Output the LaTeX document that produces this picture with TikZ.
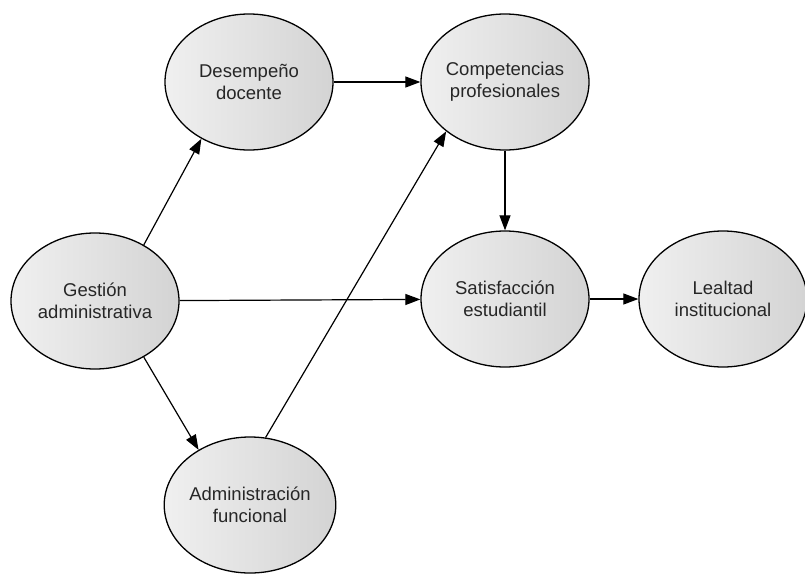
\documentclass[tikz,border=0pt]{standalone}
\usepackage{fontspec}
\setmainfont{Liberation Sans}
\usetikzlibrary{shapes.geometric,arrows.meta}

\begin{document}
\begin{tikzpicture}[x=1pt, y=-1pt,
    construct/.style={ellipse, draw=black, line width=1.3pt,
        left color=black!6, right color=black!17,
        minimum width=168pt, minimum height=136pt, inner sep=0pt,
        align=center, text=black!85,
        font=\fontsize{18.5pt}{22pt}\selectfont},
    path/.style={line width=1.2pt, -{Triangle[length=15pt, width=11pt]}}]
    \useasboundingbox (0,0) rectangle (805,573);

    \node[construct] (gestion) at (95,301) {Gestión\\administrativa};
    \node[construct] (desempeno) at (249,82) {Desempeño\\docente};
    \node[construct] (competencias) at (505,82) {Competencias\\profesionales};
    \node[construct] (satisfaccion) at (505,299) {Satisfacción\\estudiantil};
    \node[construct] (lealtad) at (723,299) {Lealtad\\institucional};
    \node[construct] (administracion) at (250,505) {Administración\\funcional};

    \draw[path] (gestion.49) -- (desempeno.230);
    \draw[path] (gestion) -- (satisfaccion);
    \draw[path] (gestion.-49) -- (administracion.133);
    \draw[path] (desempeno) -- (competencias);
    \draw[path] (administracion.77) -- (competencias.220);
    \draw[path] (competencias) -- (satisfaccion);
    \draw[path] (satisfaccion) -- (lealtad);
\end{tikzpicture}
\end{document}
